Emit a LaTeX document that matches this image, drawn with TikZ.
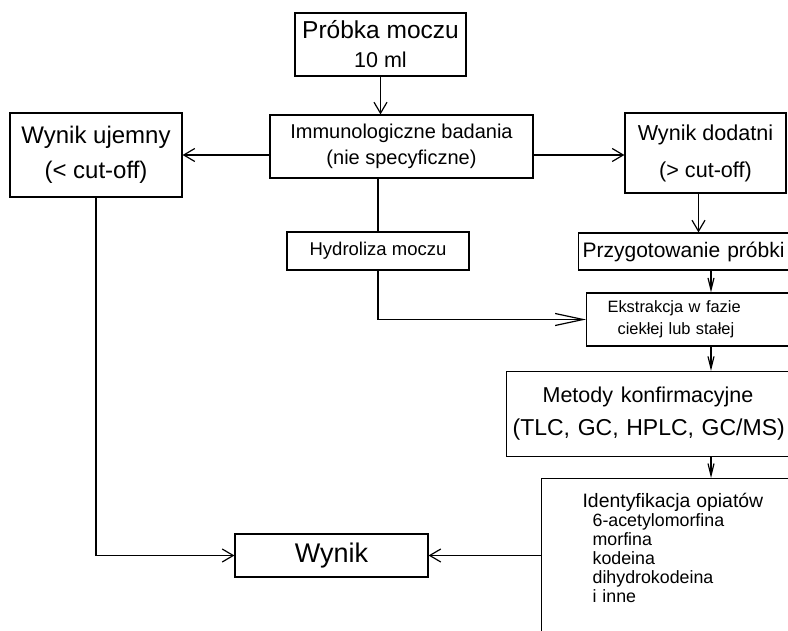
\documentclass[tikz,border=0pt]{standalone}
\usepackage{fontspec}
\setmainfont{Liberation Sans}
\usepackage{tikz}
\usetikzlibrary{arrows.meta}

\begin{document}
\begin{tikzpicture}[x=1pt,y=-1pt,line width=1.2pt,>={Straight Barb[length=11pt,width=13pt]}]
		\tikzstyle{box}=[rectangle,draw,inner sep=0pt,align=center];
		\tikzstyle{cutbox}=[rectangle,draw,inner ysep=0pt,align=left,anchor=west];
		\tikzstyle{thinarrow}=[-{Straight Barb[length=12pt,width=6pt]}];
		\tikzstyle{longarrow}=[-{Straight Barb[length=28pt,width=12pt]}];
		\useasboundingbox(0,0)rectangle(788,631);
		\clip(0,0)rectangle(788,631);
		\coordinate(col)at(711,0);

		\node[box,minimum width=171,minimum height=63,font=\fontsize{24.5}{29}\selectfont](probka)at(380.5,44.5)
			{Próbka moczu\\\fontsize{21.5}{29}\selectfont 10 ml};
		\node[box,minimum width=263,minimum height=63,font=\fontsize{20}{26}\selectfont](immuno)at(401.5,146.5)
			{Immunologiczne badania\\(nie specyficzne)};
		\node[box,minimum width=172,minimum height=84,font=\fontsize{24}{35}\selectfont](ujemny)at(96,155)
			{Wynik ujemny\\(< cut-off)};
		\node[box,minimum width=161,minimum height=80,font=\fontsize{21.6}{37}\selectfont](dodatni)at(705.5,153)
			{Wynik dodatni\\(> cut-off)};
		\node[box,minimum width=182,minimum height=38,font=\fontsize{18.5}{22}\selectfont](hydro)at(378,251)
			{Hydroliza moczu};

		% prawa kolumna, ramki uciete na krawedzi
		\node[cutbox,minimum height=37,inner xsep=4pt,text width=240pt,font=\fontsize{21}{25}\selectfont](przyg)at(578,251.5)
			{Przygotowanie próbki};
		\node[cutbox,minimum height=53,inner xsep=21pt,text width=200pt,font=\fontsize{16.4}{22}\selectfont](ekstr)at(586,319.5)
			{Ekstrakcja w fazie\\\hspace*{10pt}ciekłej lub stałej};
		\node[cutbox,minimum height=85,inner xsep=6pt,text width=300pt,font=\fontsize{23}{33}\selectfont](metody)at(506,414)
			{\hspace*{30pt}{\fontsize{21.5}{33}\selectfont Metody konfirmacyjne}\\(TLC, GC, HPLC, GC/MS)};
		\node[cutbox,anchor=north west,inner xsep=41pt,inner ysep=15pt,text width=250pt,text depth=150pt,
			font=\fontsize{17.8}{19}\selectfont](ident)at(541,478)
			{{\fontsize{19.4}{19}\selectfont Identyfikacja opiatów}\\
			\hspace*{10pt}6-acetylomorfina\\
			\hspace*{10pt}morfina\\
			\hspace*{10pt}kodeina\\
			\hspace*{10pt}dihydrokodeina\\
			\hspace*{10pt}i inne};

		\node[box,minimum width=193,minimum height=43,font=\fontsize{27}{30}\selectfont](wynik)at(331.5,555.5)
			{Wynik};

		\draw[->](probka.south)--(probka.south|-immuno.north);
		\draw[->](immuno.west|-ujemny.east)--(ujemny.east);
		\draw[->](immuno.east|-ujemny.east)--(dodatni.west|-ujemny.east);
		\draw(immuno.south-|hydro.north)--(hydro.north);
		\draw[longarrow](hydro.south)|-(ekstr.west);
		\draw[->]([xshift=-7pt]dodatni.south)--([xshift=-7pt]dodatni.south|-przyg.north);
		\draw[thinarrow](przyg.south-|col)--(ekstr.north-|col);
		\draw[thinarrow](ekstr.south-|col)--(metody.north-|col);
		\draw[thinarrow](metody.south-|col)--(ident.north-|col);
		\draw[->](ujemny.south)|-(wynik.west);
		\draw[->](ident.west|-wynik.east)--(wynik.east);
	\end{tikzpicture}
\end{document}
